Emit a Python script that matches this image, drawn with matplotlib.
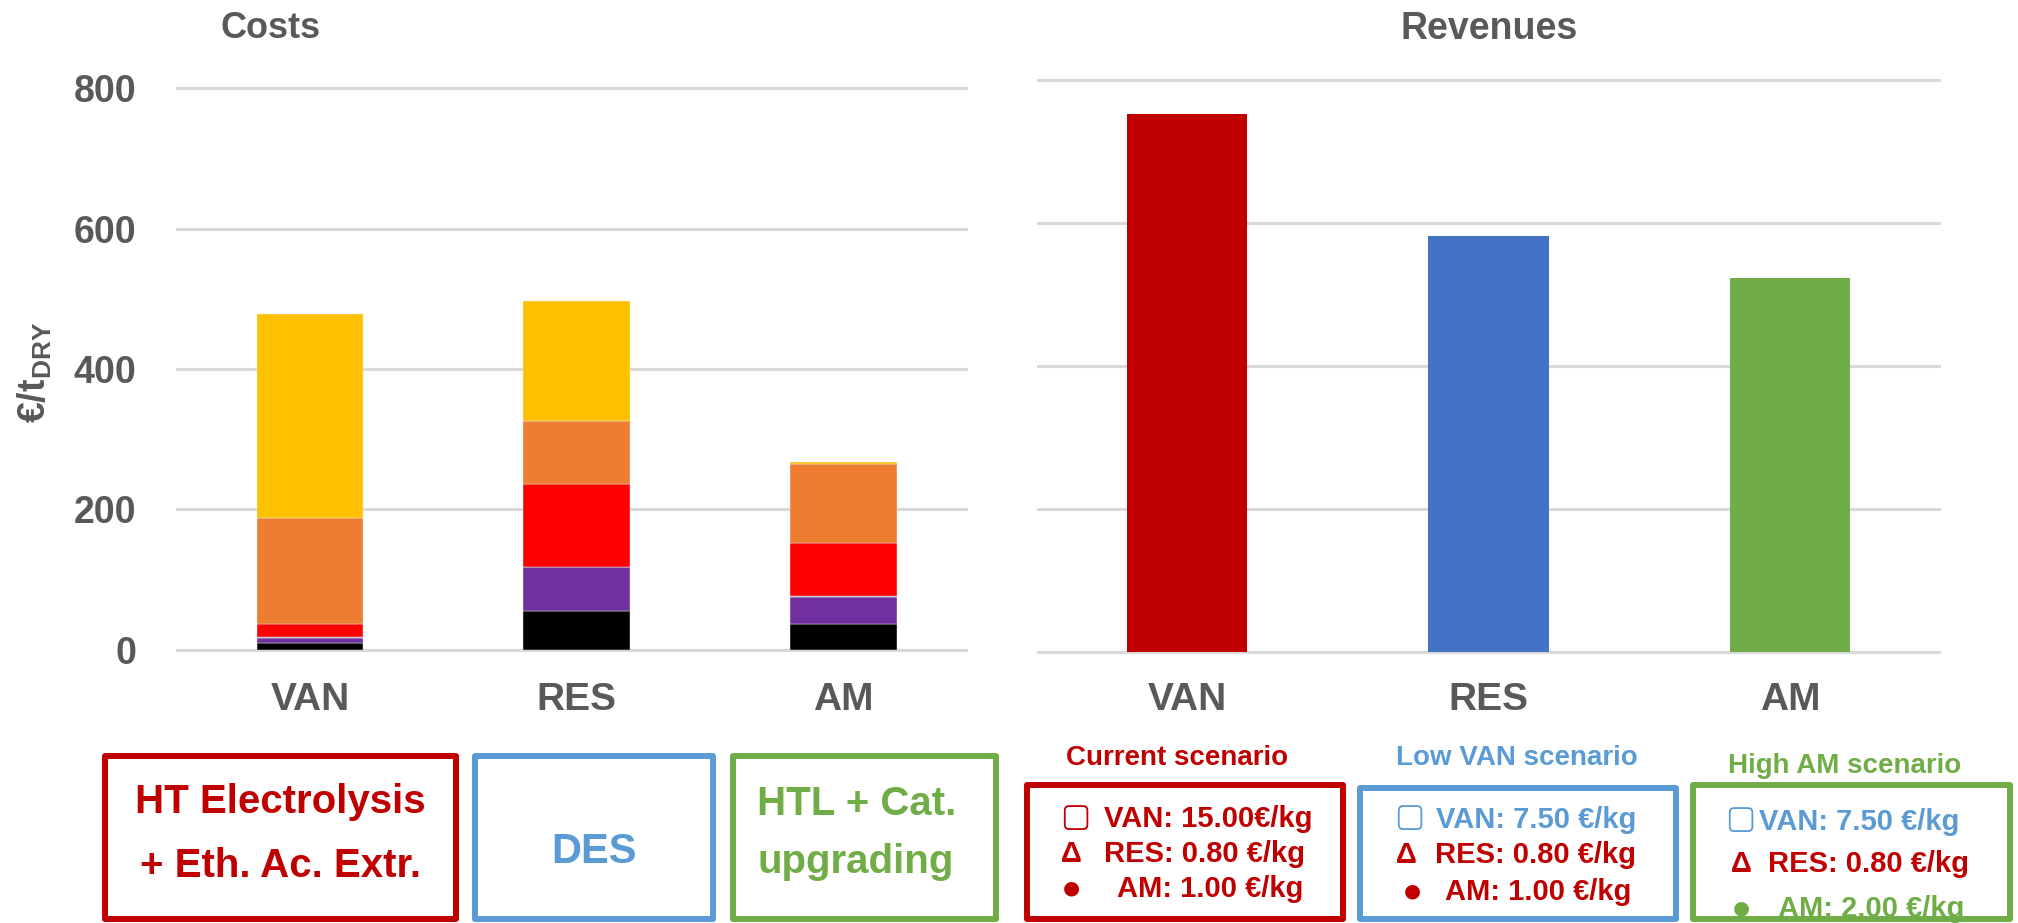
import matplotlib
matplotlib.use('Agg')
import matplotlib.pyplot as plt
from matplotlib.patches import Rectangle
import numpy as np

plt.rcParams['font.family'] = ['Liberation Sans', 'DejaVu Sans']
plt.rcParams['font.weight'] = 'bold'

# data
categories = ['VAN', 'RES', 'AM']
cost_black = [9.5, 54.5, 36.5]
cost_purple = [6.5, 63, 38]
cost_gray = [2.5, 0, 2]
cost_red = [18.5, 119, 75]
cost_orange = [151, 89.5, 113]
cost_yellow = [291, 170.5, 3.5]
revenues = [753, 582, 523]
yticks = [0, 200, 400, 600, 800]

cost_colors = ['#000000', '#7030A0', '#A5A5A5', '#FF0000', '#ED7D31', '#FFC000']
rev_colors = ['#C00000', '#4472C4', '#70AD47']
RED, BLUE, GREEN, GRAY = '#C00000', '#5B9BD5', '#70AD47', '#595959'

W, H = 2018, 923
fig = plt.figure(figsize=(W / 100, H / 100), dpi=100)


def frect(x0, y0, x1, y1):
    # pixel box (top-down) -> figure fraction rect
    return [x0 / W, 1 - y1 / H, (x1 - x0) / W, (y1 - y0) / H]


def ftext(x, y, s, **kw):
    kw.setdefault('va', 'baseline')
    return fig.text(x / W, 1 - y / H, s, **kw)


def fbox(x0, y0, x1, y1, color):
    fig.add_artist(Rectangle((x0 / W, 1 - y1 / H), (x1 - x0) / W, (y1 - y0) / H,
                             transform=fig.transFigure, fill=False, ec=color,
                             lw=4.3, joinstyle='round'))


# ---- costs (stacked) ----
ax1 = fig.add_axes(frect(176.7, 88.4, 966, 649.6))
x = np.arange(len(categories))
bottom = np.zeros(len(categories))
for vals, c in zip([cost_black, cost_purple, cost_gray, cost_red, cost_orange, cost_yellow], cost_colors):
    ax1.bar(x, vals, 0.4, bottom=bottom, color=c, edgecolor='#EDEDED', linewidth=0.3, zorder=3)
    bottom += np.array(vals)

# ---- revenues ----
ax2 = fig.add_axes(frect(1037.7, 80.3, 1939, 651.5))
ax2.bar(x, revenues, 0.4, color=rev_colors, zorder=3)

for ax in (ax1, ax2):
    ax.set_ylim(0, 800)
    for s in ax.spines.values():
        s.set_visible(False)
    for v in yticks:
        ax.axhline(v, color='#D9D9D9', lw=2.2, zorder=1, clip_on=False)
    ax.set_xticks(x)
    ax.set_xticklabels(categories, fontsize=28, color=GRAY, fontweight='bold')
    ax.tick_params(axis='both', length=0)
ax1.set_xlim(-0.5, 2.46)
ax2.set_xlim(-0.495, 2.494)
ax1.tick_params(axis='x', pad=23)
ax2.tick_params(axis='x', pad=22)
ax1.set_yticks(yticks)
ax1.set_yticklabels([str(v) for v in yticks], fontsize=27, color=GRAY, fontweight='bold')
ax1.tick_params(axis='y', pad=29)
ax2.set_yticks(yticks)
ax2.set_yticklabels([])

# titles and axis label
ftext(271, 38, 'Costs', ha='center', fontsize=26, color=GRAY)
ftext(1489, 39, 'Revenues', ha='center', fontsize=27, color=GRAY)
ftext(35, 372, r'€/t$_{\mathregular{DRY}}$', ha='center', va='center', rotation=90,
      fontsize=27, color=GRAY)

# ---- process boxes under the costs chart ----
fbox(105, 756, 456, 919, RED)
fbox(475, 756, 713, 919, BLUE)
fbox(733, 756, 996, 919, GREEN)
ftext(280, 813, 'HT Electrolysis', ha='center', fontsize=29, color=RED)
ftext(280, 877, '+ Eth. Ac. Extr.', ha='center', fontsize=29, color=RED)
ftext(594, 863, 'DES', ha='center', fontsize=30, color=BLUE)
ftext(757, 815, 'HTL + Cat.', ha='left', fontsize=29, color=GREEN)
ftext(757, 873, 'upgrading', ha='left', fontsize=29, color=GREEN)

# ---- scenario boxes under the revenues chart ----
scenario_titles = ['Current scenario', 'Low VAN scenario', 'High AM scenario']
scenario_colors = [RED, BLUE, GREEN]
van_prices = ['VAN: 15.00€/kg', 'VAN: 7.50 €/kg', 'VAN: 7.50 €/kg']
res_prices = ['RES: 0.80 €/kg', 'RES: 0.80 €/kg', 'RES: 0.80 €/kg']
am_prices = ['AM: 1.00 €/kg', 'AM: 1.00 €/kg', 'AM: 2.00 €/kg']
line_colors = [[RED, RED, RED], [BLUE, RED, RED], [BLUE, RED, GREEN]]

box_x = [(1027, 1343), (1360, 1676), (1693, 2010)]
box_top = [785, 788, 785]
title_pos = [(1177, 765), (1517, 765), (1845, 773)]
sym_cx = [(1075, 1071, 1071), (1409, 1406, 1412), (1740, 1741, 1741)]
lab_x = [(1104, 1104, 1117), (1436, 1435, 1445), (1759, 1768, 1778)]
base_y = [(827, 862, 897), (828, 863, 900), (830, 872, 917)]

for i in range(3):
    fbox(box_x[i][0], box_top[i], box_x[i][1], 919, scenario_colors[i])
    ftext(title_pos[i][0], title_pos[i][1], scenario_titles[i], ha='center',
          fontsize=20, color=scenario_colors[i])
    labels = [van_prices[i], res_prices[i], am_prices[i]]
    cols = line_colors[i]
    # square, delta, dot markers in front of each price
    ftext(sym_cx[i][0], base_y[i][0] - 10, '▢', ha='center', va='center',
          fontsize=23, color=cols[0], family='DejaVu Sans', fontweight='bold')
    ftext(sym_cx[i][1], base_y[i][1], 'Δ', ha='center', fontsize=21, color=cols[1])
    ftext(sym_cx[i][2], base_y[i][2] - 9, '●', ha='center', va='center',
          fontsize=14, color=cols[2], family='DejaVu Sans')
    for j in range(3):
        ftext(lab_x[i][j], base_y[i][j], labels[j], ha='left', fontsize=21, color=cols[j])

fig.savefig('out.png', dpi=100)
